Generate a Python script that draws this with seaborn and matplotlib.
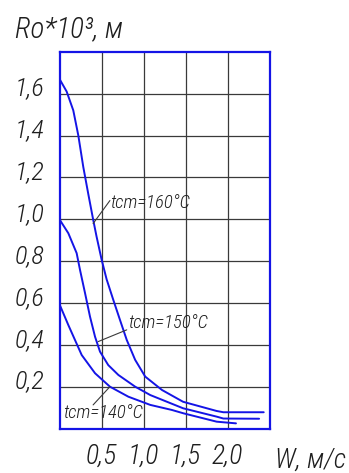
import matplotlib
matplotlib.use("Agg")
import matplotlib.pyplot as plt
import matplotlib.transforms as mtransforms
from matplotlib import font_manager as fm
import pandas as pd
import seaborn as sns

# ---- data ----
w_160 = [0.0, 0.085, 0.164, 0.224, 0.283, 0.343, 0.40, 0.44, 0.50, 0.56, 0.64, 0.72, 0.80,
         0.90, 1.02, 1.22, 1.47, 1.87, 1.95, 2.43]
r_160 = [1.67, 1.61, 1.52, 1.40, 1.25, 1.12, 1.00, 0.92, 0.81, 0.715, 0.616, 0.52, 0.425,
         0.33, 0.25, 0.186, 0.130, 0.086, 0.080, 0.080]

w_150 = [0.0, 0.105, 0.204, 0.244, 0.304, 0.363, 0.423, 0.482, 0.58, 0.70, 0.90, 1.08, 1.47,
         1.87, 1.95, 2.375]
r_150 = [1.0, 0.934, 0.839, 0.759, 0.648, 0.536, 0.44, 0.369, 0.305, 0.258, 0.202, 0.162, 0.099,
         0.059, 0.050, 0.049]

w_140 = [0.0, 0.105, 0.264, 0.423, 0.60, 0.82, 1.08, 1.336, 1.474, 1.87, 2.10]
r_140 = [0.595, 0.496, 0.353, 0.266, 0.202, 0.154, 0.115, 0.091, 0.075, 0.035, 0.027]

curve_names = ["tcm=160°C", "tcm=150°C", "tcm=140°C"]
x_ticks = [0.5, 1.0, 1.5, 2.0]
x_tick_labels = ["0,5", "1,0", "1,5", "2,0"]
y_ticks = [0.2, 0.4, 0.6, 0.8, 1.0, 1.2, 1.4, 1.6]
y_tick_labels = ["0,2", "0,4", "0,6", "0,8", "1,0", "1,2", "1,4", "1,6"]

# label text position, leader line start (on curve) and end
label_pos = [(0.60, 1.08), (0.815, 0.506), (0.04, 0.076)]
leader_from = [(0.40, 0.98), (0.46, 0.417), (0.40, 0.115)]
leader_to = [(0.60, 1.09), (0.80, 0.473), (0.60, 0.202)]

df = pd.concat([
    pd.DataFrame({"W": w, "R": r, "curve": name})
    for w, r, name in zip([w_160, w_150, w_140], [r_160, r_150, r_140], curve_names)
])

# ---- style ----
sns.set_style("white")

# narrow font if there is one, like the drafting font of the original
installed = {f.name for f in fm.fontManager.ttflist}
narrow = [n for n in ["Liberation Sans Narrow", "Roboto Condensed", "Open Sans Condensed",
                      "PT Sans Narrow", "Archivo Narrow", "Encode Sans Condensed"]
          if n in installed]
if narrow:
    plt.rcParams["font.family"] = [narrow[0], "DejaVu Sans"]
    k = 1.0
else:
    plt.rcParams["font.family"] = ["Liberation Sans", "DejaVu Sans"]
    k = 0.85
plt.rcParams["font.style"] = "italic"
plt.rcParams["font.weight"] = "light"

BLUE = "#1414e6"
GRID = "#3a3a3a"
TEXT = "#1e1e1e"

fig = plt.figure(figsize=(3.49, 4.73), dpi=100)
ax = fig.add_axes([0.1705, 0.093, 0.602, 0.7977])

sns.lineplot(data=df, x="W", y="R", hue="curve", units="curve", estimator=None,
             sort=False, palette=[BLUE] * 3, linewidth=1.4, legend=False, ax=ax)

ax.set_xlim(0, 2.5)
ax.set_ylim(0, 1.8)
ax.set_xticks(x_ticks)
ax.set_xticklabels(x_tick_labels, fontsize=20 * k, color=TEXT)
ax.set_yticks(y_ticks)
ax.set_yticklabels(y_tick_labels, fontsize=19 * k, color=TEXT)
ax.tick_params(axis="both", length=0)
ax.tick_params(axis="x", pad=10)
ax.tick_params(axis="y", pad=11)
ax.grid(True, color=GRID, linewidth=0.9)
ax.set_axisbelow(True)
ax.set_xlabel("")
ax.set_ylabel("")

for s in ax.spines.values():
    s.set_color(BLUE)
    s.set_linewidth(1.6)

# y tick labels sit a bit above their grid lines
shift = mtransforms.ScaledTranslation(0, 0.08, fig.dpi_scale_trans)
for lbl in ax.get_yticklabels():
    lbl.set_transform(lbl.get_transform() + shift)

# curve labels with leader lines
for name, (tx, ty), p0, p1 in zip(curve_names, label_pos, leader_from, leader_to):
    ax.plot([p0[0], p1[0]], [p0[1], p1[1]], color=GRID, linewidth=0.8)
    ax.text(tx, ty, name, fontsize=13.5 * k, color=TEXT, ha="left", va="center")

ax.text(1.193, -0.082, "W, м/с", transform=ax.transAxes, fontsize=20 * k, color=TEXT,
        ha="center", va="center", clip_on=False)
fig.text(15 / 349, 1 - 37 / 473, "Rо*10³, м", fontsize=21 * k, color=TEXT,
         ha="left", va="baseline")

fig.savefig("out.png", dpi=100)
